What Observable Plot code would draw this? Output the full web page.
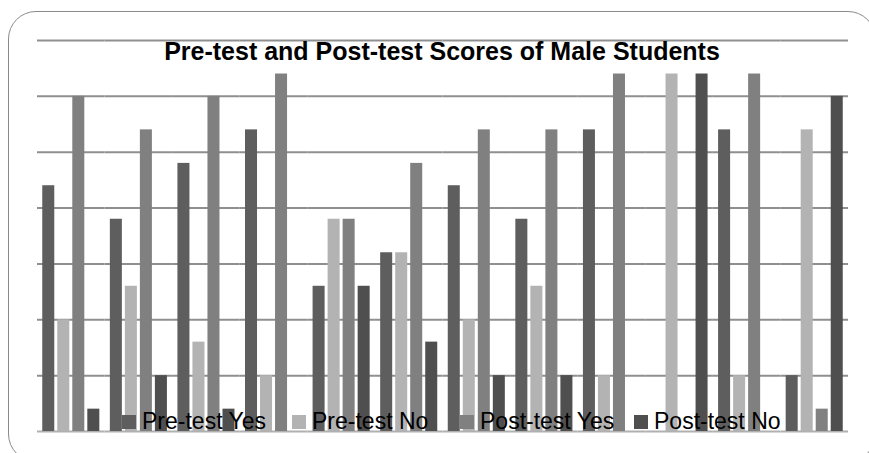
<!DOCTYPE html>
<html>
<head>
<meta charset="utf-8">
<script src="https://cdn.jsdelivr.net/npm/d3@7"></script>
<script src="https://cdn.jsdelivr.net/npm/@observablehq/plot@0.6"></script>
<style>
  html, body { margin: 0; padding: 0; background: #fff; overflow: hidden; }
  #wrap { position: relative; width: 869px; height: 453px; overflow: hidden; font-family: "Liberation Sans", Arial, sans-serif; }
  #frame { position: absolute; left: 8px; top: 11px; width: 868px; height: 451px; border: 1.5px solid #8a8a8a; border-radius: 28px; box-sizing: border-box; pointer-events: none; }
  #chart { position: absolute; left: 0; top: 0; }
</style>
</head>
<body>
<div id="wrap"><div id="chart"></div><div id="frame"></div></div>
<script>
const title = "Pre-test and Post-test Scores of Male Students";
const groups = ["1","2","3","4","5","6","7","8","9","10","11","12"];
const series = ["Pre-test Yes", "Pre-test No", "Post-test Yes", "Post-test No"];
const colors = ["#5e5e5e", "#b3b3b3", "#808080", "#4f4f4f"];
const preYes  = [22, 19, 24, 27, 13, 16, 22, 19, 27,  0, 27,  5];
const preNo   = [10, 13,  8,  5, 19, 16, 10, 13,  5, 32,  5, 27];
const postYes = [30, 27, 30, 32, 19, 24, 27, 27, 32,  0, 32,  2];
const postNo  = [ 2,  5,  2,  0, 13,  8,  5,  5,  0, 32,  0, 30];
const yTicks = [5, 10, 15, 20, 25, 30, 35];

const valuesBySeries = [preYes, preNo, postYes, postNo];
const data = [];
groups.forEach((g, i) => {
  series.forEach((s, j) => data.push({group: g, series: s, value: valuesBySeries[j][i]}));
});

const plot = Plot.plot({
  width: 869,
  height: 453,
  marginLeft: 37,
  marginRight: 21,
  marginTop: 40,
  marginBottom: 22,
  style: {background: "transparent"},
  fx: {domain: groups, axis: null, padding: 0, round: false},
  x: {domain: series, axis: null, paddingInner: 0.2, paddingOuter: 0.35, round: false},
  y: {domain: [0, 35], axis: null},
  color: {domain: series, range: colors},
  marks: [
    Plot.ruleY(yTicks, {stroke: "#8f8f8f", strokeWidth: 2}),
    Plot.ruleY([0], {stroke: "#b0b0b0", strokeWidth: 2}),
    Plot.barY(data, {fx: "group", x: "series", y: "value", fill: "series"})
  ]
});
document.getElementById("chart").appendChild(plot);

const svg = d3.select(plot);
svg.append("text")
  .attr("x", 442).attr("y", 60)
  .attr("text-anchor", "middle")
  .attr("font-family", "'Liberation Sans', Arial, sans-serif")
  .attr("font-weight", "bold")
  .attr("font-size", 25)
  .attr("fill", "#000")
  .text(title);

const legendX = [122, 292, 460, 634];
const lg = svg.append("g").attr("text-anchor", "start");
series.forEach((s, i) => {
  lg.append("rect").attr("x", legendX[i]).attr("y", 415).attr("width", 14).attr("height", 14).attr("fill", colors[i]);
  lg.append("text")
    .attr("x", legendX[i] + 20).attr("y", 429)
    .attr("text-anchor", "start")
    .attr("font-family", "'Liberation Sans', Arial, sans-serif")
    .attr("font-size", 23)
    .attr("fill", "#000")
    .text(s);
});
</script>
</body>
</html>
